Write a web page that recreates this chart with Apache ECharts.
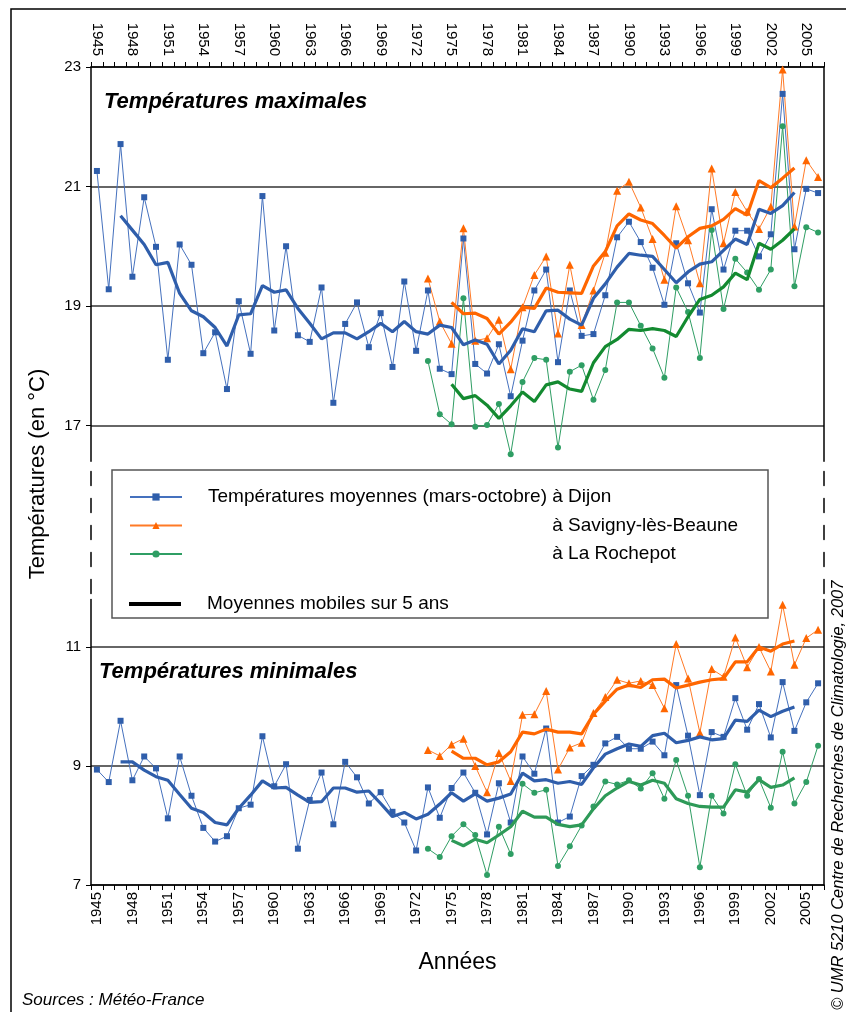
<!DOCTYPE html>
<html><head><meta charset="utf-8">
<script src="https://cdn.jsdelivr.net/npm/echarts@6/dist/echarts.min.js"></script>
<style>html,body{margin:0;padding:0;background:#fff}#c{width:846px;height:1012px}</style>
</head><body><div id="c"></div>
<script>
const years = ['1945','1946','1947','1948','1949','1950','1951','1952','1953','1954','1955','1956','1957','1958','1959','1960','1961','1962','1963','1964','1965','1966','1967','1968','1969','1970','1971','1972','1973','1974','1975','1976','1977','1978','1979','1980','1981','1982','1983','1984','1985','1986','1987','1988','1989','1990','1991','1992','1993','1994','1995','1996','1997','1998','1999','2000','2001','2002','2003','2004','2005','2006'];

// Températures maximales
const dijonMax = [21.26,19.28,21.71,19.49,20.82,19.99,18.10,20.03,19.69,18.21,
  18.56,17.61,19.08,18.20,20.84,18.59,20.00,18.51,18.40,19.31,
  17.38,18.70,19.06,18.31,18.88,17.98,19.41,18.25,19.26,17.95,
  17.86,20.13,18.03,17.87,18.36,17.49,18.42,19.26,19.61,18.06,
  19.26,18.50,18.53,19.18,20.15,20.41,20.07,19.64,19.02,20.05,
  19.38,18.89,20.62,19.61,20.26,20.26,19.83,20.20,22.55,19.95,
  20.96,20.89]; // 1945-2006
const dijonMaxMA = [20.51,20.27,20.03,19.69,19.73,19.21,18.92,18.82,18.64,18.33,
  18.85,18.87,19.34,19.23,19.27,18.96,18.71,18.45,18.55,18.55,
  18.45,18.57,18.71,18.57,18.74,18.57,18.53,18.68,18.64,18.35,
  18.43,18.36,18.03,18.26,18.62,18.57,18.92,18.93,18.78,18.68,
  19.13,19.37,19.65,19.88,19.85,19.83,19.61,19.39,19.57,19.70,
  19.74,19.93,20.12,20.03,20.62,20.55,20.68,20.90]; // 1947-2004
const savMax = [19.46,18.74,18.37,20.30,18.42,18.46,18.77,17.94,18.98,19.52,
  19.83,18.54,19.69,18.68,19.26,19.89,20.93,21.08,20.65,20.12,
  19.44,20.67,20.10,19.38,21.30,20.05,20.91,20.58,20.29,20.66,
  22.96,20.33,21.44,21.16]; // 1973-2006
const savMaxMA = [19.06,18.87,18.88,18.79,18.53,18.73,18.98,18.96,19.30,19.23,
  19.22,19.21,19.67,19.91,20.34,20.54,20.44,20.38,20.18,19.97,
  20.16,20.30,20.34,20.45,20.63,20.52,21.10,20.98,21.14,21.31]; // 1975-2004
const rochMax = [18.08,17.19,17.02,19.13,16.98,17.01,17.36,16.52,17.73,18.13,
  18.10,16.63,17.90,18.01,17.43,17.93,19.06,19.06,18.67,18.29,
  17.80,19.31,18.90,18.13,20.27,18.95,19.79,19.56,19.27,19.61,
  22.01,19.33,20.32,20.23]; // 1973-2006
const rochMaxMA = [17.69,17.45,17.50,17.34,17.12,17.33,17.56,17.40,17.68,17.73,
  17.61,17.57,18.05,18.32,18.44,18.61,18.59,18.62,18.59,18.49,
  18.82,19.11,19.18,19.32,19.55,19.44,20.05,19.95,20.10,20.29]; // 1975-2004

// Températures minimales
const dijonMin = [8.94,8.73,9.76,8.76,9.16,8.96,8.12,9.16,8.50,7.96,
  7.73,7.82,8.29,8.35,9.50,8.66,9.03,7.61,8.43,8.89,
  8.02,9.07,8.81,8.37,8.56,8.23,8.05,7.58,8.64,8.13,
  8.63,8.89,8.55,7.85,8.71,8.05,9.16,8.87,9.63,8.05,
  8.15,8.83,9.02,9.38,9.49,9.29,9.29,9.41,9.18,10.36,
  9.51,8.51,9.57,9.49,10.14,9.61,10.04,9.48,10.41,9.59,
  10.07,10.39]; // 1945-2006
const dijonMinMA = [9.07,9.07,8.93,8.82,8.76,8.52,8.29,8.22,8.05,8.01,
  8.29,8.51,8.75,8.63,8.64,8.51,8.39,8.40,8.63,8.63,
  8.56,8.58,8.37,8.15,8.22,8.11,8.19,8.36,8.55,8.41,
  8.53,8.41,8.46,8.53,8.88,8.75,8.77,8.71,8.74,8.69,
  8.97,9.20,9.29,9.37,9.33,9.51,9.55,9.39,9.43,9.49,
  9.44,9.46,9.77,9.75,9.94,9.83,9.92,9.99]; // 1947-2004
const savMin = [9.27,9.17,9.36,9.46,9.00,8.56,9.22,8.75,9.86,9.87,
  10.26,8.94,9.31,9.39,9.89,10.16,10.45,10.39,10.43,10.36,
  9.97,11.05,10.47,9.56,10.63,10.50,11.16,10.66,11.00,10.59,
  11.71,10.70,11.15,11.29]; // 1973-2006
const savMinMA = [9.25,9.13,9.13,9.02,9.07,9.24,9.57,9.54,9.62,9.57,
  9.57,9.54,9.87,10.09,10.29,10.36,10.32,10.45,10.46,10.31,
  10.36,10.41,10.45,10.47,10.75,10.75,11.00,10.93,11.05,11.10]; // 1975-2004
const rochMin = [7.61,7.47,7.82,8.02,7.84,7.17,7.98,7.52,8.70,8.55,
  8.60,7.32,7.65,8.00,8.32,8.74,8.69,8.76,8.62,8.88,
  8.45,9.10,8.50,7.30,8.50,8.20,9.03,8.50,8.78,8.30,
  9.24,8.37,8.73,9.34]; // 1973-2006
const rochMinMA = [7.75,7.66,7.77,7.71,7.84,7.98,8.24,8.14,8.14,8.02,
  7.98,8.01,8.28,8.50,8.63,8.74,8.68,8.76,8.71,8.45,
  8.37,8.32,8.31,8.31,8.60,8.56,8.77,8.64,8.68,8.80]; // 1975-2004

const maxTicks = [17, 19, 21, 23];
const minTicks = [7, 9, 11];

const nD = 'Températures moyennes (mars-octobre) à Dijon';
const nS = 'à Savigny-lès-Beaune';
const nR = 'à La Rochepot';
const nMA = 'Moyennes mobiles sur 5 ans';

function pad(startYear, arr) {
  const out = years.map(() => null);
  const off = years.indexOf(String(startYear));
  arr.forEach((v, i) => { out[off + i] = v; });
  return out;
}

const FONT = '"Liberation Sans", Arial, Helvetica, sans-serif';
const BLUE = '#2f5eab', BLUE_L = '#4571be';
const ORANGE = '#ff6600', ORANGE_L = '#ff7a26';
const GREEN = '#2f9e64', GREEN_MA_TOP = '#138a30', GREEN_MA_BOT = '#2e9a58';

const ctx = document.createElement('canvas').getContext('2d');
ctx.font = '19px ' + FONT;
const padW = ctx.measureText('Températures moyennes (mars-octobre) ').width;

const PX_TOP = 59.75, PX_BOT = 59.5;
const topMin = 16.4, topMax = 23, botMin = 7, botMax = 11.8;
const gTop = 67, gTopH = (topMax - topMin) * PX_TOP;
const gBotH = (botMax - botMin) * PX_BOT, gBot = 885 - gBotH;
const gLeft = 91, gWidth = 733;

function thin(name, data, gi, symbol, size, color, lcolor) {
  return { type: 'line', name, data, xAxisIndex: gi, yAxisIndex: gi * 2,
    symbol, symbolSize: size, showSymbol: true, showAllSymbol: true, connectNulls: false,
    itemStyle: { color }, lineStyle: { color: lcolor, width: 1 }, z: 3 };
}
function ma(name, data, gi, color) {
  return { type: 'line', name, data, xAxisIndex: gi, yAxisIndex: gi * 2,
    symbol: 'none', connectNulls: false,
    itemStyle: { color }, lineStyle: { color, width: 3.2 }, z: 4 };
}

const xCommon = {
  type: 'category', data: years, boundaryGap: true,
  axisLine: { lineStyle: { color: '#000', width: 1.5 } },
  axisTick: { show: true, interval: 0, length: 5, lineStyle: { color: '#000', width: 1 } },
  axisLabel: { interval: 2, rotate: 90, fontSize: 15, color: '#000', fontFamily: FONT }
};
const axLine = { show: true, lineStyle: { color: '#000', width: 1.5 } };
const gridLine = { show: true, lineStyle: { color: '#333', width: 1.5 } };
const dashed = { show: true, lineStyle: { color: '#000', width: 1.5, type: [14, 13], dashOffset: -6 } };

const option = {
  animation: false,
  backgroundColor: '#fff',
  textStyle: { fontFamily: FONT },
  title: [
    { text: 'Températures maximales', left: 104, top: 91, padding: 0,
      textStyle: { fontSize: 22, fontWeight: 'bold', fontStyle: 'italic', color: '#000', fontFamily: FONT } },
    { text: 'Températures minimales', left: 99, top: 661, padding: 0,
      textStyle: { fontSize: 22, fontWeight: 'bold', fontStyle: 'italic', color: '#000', fontFamily: FONT } }
  ],
  grid: [
    { left: gLeft, width: gWidth, top: gTop, height: gTopH, containLabel: false, outerBoundsMode: 'none' },
    { left: gLeft, width: gWidth, top: gBot, height: gBotH, containLabel: false, outerBoundsMode: 'none' },
    { left: gLeft, width: gWidth, top: gTop + gTopH, height: gBot - gTop - gTopH, containLabel: false, outerBoundsMode: 'none' }
  ],
  xAxis: [
    Object.assign({}, xCommon, { gridIndex: 0, position: 'top',
      axisLabel: Object.assign({}, xCommon.axisLabel, { margin: 11 }) }),
    Object.assign({}, xCommon, { gridIndex: 1, position: 'bottom',
      axisLabel: Object.assign({}, xCommon.axisLabel, { margin: 7 }),
      name: 'Années', nameLocation: 'middle', nameGap: 66,
      nameTextStyle: { fontSize: 23, color: '#000', fontFamily: FONT } }),
    { type: 'category', data: years, gridIndex: 2, show: false }
  ],
  yAxis: [
    { type: 'value', gridIndex: 0, min: topMin, max: topMax, position: 'left',
      axisLine: axLine,
      axisTick: { show: true, length: 5, customValues: maxTicks, lineStyle: { color: '#000' } },
      axisLabel: { customValues: maxTicks, fontSize: 15, color: '#000', margin: 10, fontFamily: FONT },
      splitLine: gridLine },
    { type: 'value', gridIndex: 0, min: topMin, max: topMax, position: 'right',
      axisLine: axLine, axisTick: { show: false }, axisLabel: { show: false }, splitLine: { show: false } },
    { type: 'value', gridIndex: 1, min: botMin, max: botMax, position: 'left',
      axisLine: axLine,
      axisTick: { show: true, length: 5, customValues: minTicks, lineStyle: { color: '#000' } },
      axisLabel: { customValues: minTicks, fontSize: 15, color: '#000', margin: 10, fontFamily: FONT },
      splitLine: gridLine },
    { type: 'value', gridIndex: 1, min: botMin, max: botMax, position: 'right',
      axisLine: axLine, axisTick: { show: false }, axisLabel: { show: false }, splitLine: { show: false } },
    { type: 'value', gridIndex: 2, min: 0, max: 1, position: 'left',
      axisLine: dashed, axisTick: { show: false }, axisLabel: { show: false }, splitLine: { show: false } },
    { type: 'value', gridIndex: 2, min: 0, max: 1, position: 'right',
      axisLine: dashed, axisTick: { show: false }, axisLabel: { show: false }, splitLine: { show: false } }
  ],
  legend: [
    { left: 124, top: 481, orient: 'vertical', itemWidth: 52, itemHeight: 9, itemGap: 6.5,
      selectedMode: false, data: [nD, nS, nR],
      formatter: n => (n === nD ? '{g|}' : '{g2|}') + n,
      textStyle: { fontSize: 19, color: '#000', fontFamily: FONT, lineHeight: 22,
        rich: { g: { width: 21 }, g2: { width: 21 + padW } } } },
    { left: 124, top: 588, orient: 'vertical', itemWidth: 52, itemHeight: 4, icon: 'rect',
      selectedMode: false, data: [nMA],
      formatter: n => '{g|}' + n,
      textStyle: { fontSize: 19, color: '#000', fontFamily: FONT, lineHeight: 22,
        rich: { g: { width: 21 } } } }
  ],
  graphic: [
    { type: 'rect', z: 0, silent: true, shape: { x: 11, y: 9, width: 1000, height: 1100 },
      style: { fill: 'none', stroke: '#000', lineWidth: 1.5 } },
    { type: 'rect', z: 1, silent: true, shape: { x: 112, y: 470, width: 656, height: 148 },
      style: { fill: '#fff', stroke: '#555', lineWidth: 1.5 } },
    { type: 'text', z: 5, silent: true, x: 38, y: 474, rotation: Math.PI / 2,
      style: { text: 'Températures (en °C)', fontSize: 22, fontFamily: FONT, fill: '#000',
        align: 'center', verticalAlign: 'middle' } },
    { type: 'text', z: 5, silent: true, x: 22, y: 1000,
      style: { text: 'Sources : Météo-France', fontSize: 17, fontStyle: 'italic', fontFamily: FONT, fill: '#000',
        align: 'left', verticalAlign: 'middle' } },
    { type: 'text', z: 5, silent: true, x: 838, y: 1010, rotation: Math.PI / 2,
      style: { text: '© UMR 5210 Centre de Recherches de Climatologie, 2007', fontSize: 16.5, fontStyle: 'italic',
        fontFamily: FONT, fill: '#000', align: 'left', verticalAlign: 'middle' } }
  ],
  series: [
    thin(nD, dijonMax, 0, 'rect', 6, BLUE, BLUE_L),
    thin(nS, pad(1973, savMax), 0, 'triangle', 8, ORANGE, ORANGE_L),
    thin(nR, pad(1973, rochMax), 0, 'circle', 6, GREEN, GREEN),
    ma('Dijon MA max', pad(1947, dijonMaxMA), 0, BLUE),
    ma('Savigny MA max', pad(1975, savMaxMA), 0, ORANGE),
    ma('Rochepot MA max', pad(1975, rochMaxMA), 0, GREEN_MA_TOP),
    thin(nD, dijonMin, 1, 'rect', 6, BLUE, BLUE_L),
    thin(nS, pad(1973, savMin), 1, 'triangle', 8, ORANGE, ORANGE_L),
    thin(nR, pad(1973, rochMin), 1, 'circle', 6, GREEN, GREEN),
    ma('Dijon MA min', pad(1947, dijonMinMA), 1, BLUE),
    ma('Savigny MA min', pad(1975, savMinMA), 1, ORANGE),
    ma('Rochepot MA min', pad(1975, rochMinMA), 1, GREEN_MA_BOT),
    { type: 'line', name: nMA, data: [], xAxisIndex: 0, yAxisIndex: 0, symbol: 'none',
      itemStyle: { color: '#000' }, lineStyle: { color: '#000', width: 3.5 } }
  ]
};

const chart = echarts.init(document.getElementById('c'), null, { renderer: 'canvas' });
chart.setOption(option);
</script>
</body></html>
